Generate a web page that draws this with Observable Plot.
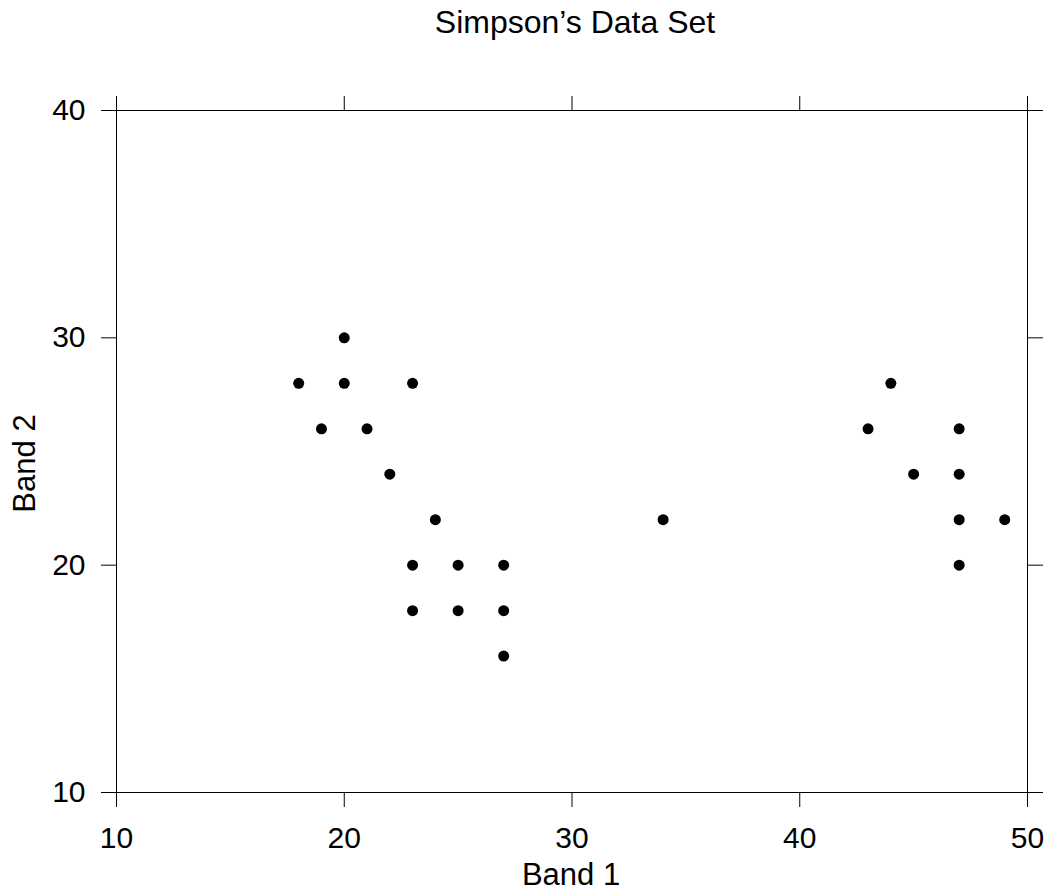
<!DOCTYPE html>
<html>
<head>
<meta charset="utf-8">
<script src="https://cdn.jsdelivr.net/npm/d3@7"></script>
<script src="https://cdn.jsdelivr.net/npm/@observablehq/plot@0.6"></script>
<style>
  html, body { margin: 0; padding: 0; background: #fff; }
  body { width: 1047px; height: 892px; overflow: hidden; font-family: "Liberation Sans", Arial, sans-serif; }
  #title { position: relative; width: 1047px; height: 50px; }
  #title span { position: absolute; left: 0; width: 1150px; top: 6px; text-align: center; font-size: 32px; line-height: 1; color: #000; white-space: nowrap; }
</style>
</head>
<body>
<div id="title"><span>Simpson’s Data Set</span></div>
<div id="chart"></div>
<script>
const band1 = [18, 19, 20, 20, 21, 22, 23, 24, 23, 23, 25, 25, 27, 27, 27, 34, 43, 44, 45, 47, 47, 47, 47, 49];
const band2 = [28, 26, 30, 28, 26, 24, 28, 22, 20, 18, 20, 18, 20, 18, 16, 22, 26, 28, 24, 26, 24, 22, 20, 22];
const xTicks = [10, 20, 30, 40, 50];
const yTicks = [10, 20, 30, 40];
const xLabel = "Band 1";
const yLabel = "Band 2";

const data = band1.map((b, i) => ({band1: b, band2: band2[i]}));
const fs = 30;
const lfs = 31;

const chart = Plot.plot({
  width: 1047,
  height: 842,
  marginTop: 60,
  marginBottom: 100,
  marginLeft: 116,
  marginRight: 20,
  style: {fontFamily: '"Liberation Sans", Arial, sans-serif', fontSize: fs + "px", color: "#000", background: "#fff", overflow: "visible"},
  x: {domain: [10, 50]},
  y: {domain: [10, 40]},
  marks: [
    Plot.frame({stroke: "#000", strokeWidth: 1}),
    Plot.axisX({anchor: "bottom", ticks: xTicks, tickSize: 15, tickPadding: 19, fontSize: fs, label: null, stroke: "#000", strokeOpacity: 1}),
    Plot.axisX({anchor: "top", ticks: xTicks, tickSize: 15, tickFormat: () => "", label: null, stroke: "#000", strokeOpacity: 1}),
    Plot.axisY({anchor: "left", ticks: yTicks, tickSize: 15, tickPadding: 16, fontSize: fs, label: null, stroke: "#000", strokeOpacity: 1}),
    Plot.axisY({anchor: "right", ticks: yTicks, tickSize: 15, tickFormat: () => "", label: null, stroke: "#000", strokeOpacity: 1}),
    Plot.text([xLabel], {frameAnchor: "bottom", textAnchor: "middle", dx: -1, dy: 70, lineAnchor: "top", fontSize: lfs, fill: "#000"}),
    Plot.text([yLabel], {frameAnchor: "left", textAnchor: "middle", rotate: -90, dx: -104, dy: 12, lineAnchor: "top", fontSize: lfs, fill: "#000"}),
    Plot.dot(data, {x: "band1", y: "band2", r: 5.5, fill: "#000", stroke: null})
  ]
});
document.getElementById("chart").appendChild(chart);
</script>
</body>
</html>
